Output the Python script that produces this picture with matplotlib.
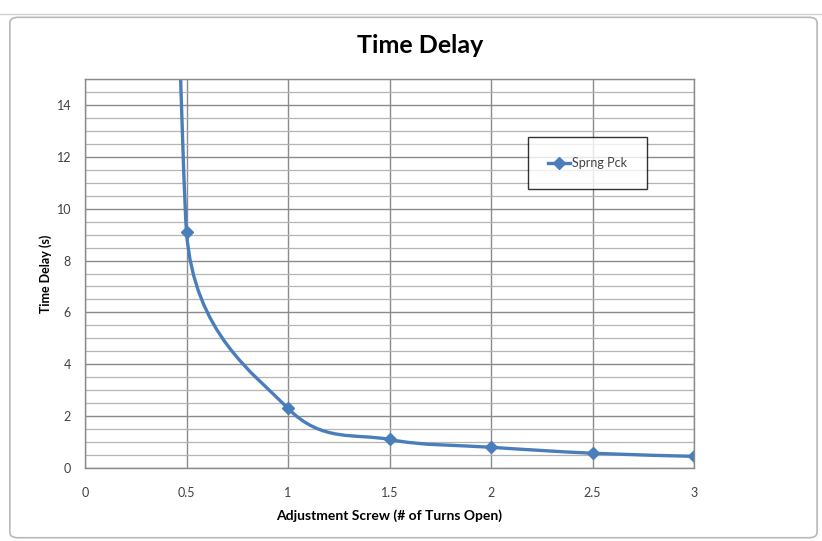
import matplotlib.pyplot as plt
import numpy as np
from matplotlib.path import Path
from matplotlib.patches import PathPatch, FancyBboxPatch
from matplotlib.lines import Line2D

turns = [0.25, 0.5, 1.0, 1.5, 2.0, 2.5, 3.0]
delay = [80.0, 9.1, 2.3, 1.1, 0.8, 0.57, 0.45]
series_name = 'Sprng Pck'

line_color = '#4a7ebb'
plt.rcParams['font.family'] = ['Lato', 'DejaVu Sans']

fig = plt.figure(figsize=(8.22, 5.41), dpi=100)
fig.patch.set_facecolor('white')

# chart area frame (Excel-like)
frame = FancyBboxPatch((0.012, 0.006), 0.982, 0.962, boxstyle='round,pad=0,rounding_size=0.01',
                       transform=fig.transFigure, facecolor='white', edgecolor='#b8b8b8',
                       lw=1.2, zorder=-10)
fig.add_artist(frame)
fig.add_artist(Line2D([0, 1], [0.975, 0.975], color='#d0d0d0', lw=1,
                      transform=fig.transFigure, zorder=-10))

ax = fig.add_axes([0.1034, 0.1349, 0.741, 0.719])
ax.set_zorder(5)
ax.set_xlim(0, 3)
ax.set_ylim(0, 15)
ax.set_xticks(np.arange(0, 3.01, 0.5))
ax.set_xticklabels(['0', '0.5', '1', '1.5', '2', '2.5', '3'])
ax.set_yticks(np.arange(0, 15, 2))
ax.set_yticks(np.arange(0, 15.01, 0.5), minor=True)
ax.grid(which='minor', axis='y', color='#b4b4b4', lw=0.9)
ax.grid(which='major', axis='y', color='#8a8a8a', lw=1.0)
ax.grid(which='major', axis='x', color='#8a8a8a', lw=1.0)
ax.set_axisbelow(True)
for s in ax.spines.values():
    s.set_color('#8a8a8a')
    s.set_linewidth(1.0)
ax.tick_params(which='both', length=0, labelsize=9, labelcolor='#404040')
ax.tick_params(axis='x', pad=14)
ax.tick_params(axis='y', pad=10)

# Excel-style smoothed line: Bezier with arms clamped to half the shorter segment,
# worked out in screen space, then mapped back to data space
pts = ax.transData.transform(np.column_stack([turns, delay]))
n = len(pts)


def arm(i):
    p_prev = pts[i - 1] if i > 0 else pts[i]
    p_next = pts[i + 1] if i + 1 < n else pts[i]
    d = p_next - p_prev
    d02 = np.hypot(*d)
    if d02 == 0:
        return np.zeros(2)
    lim = [d02 / 6]
    if i > 0:
        lim.append(np.hypot(*(pts[i] - p_prev)) / 2)
    if i + 1 < n:
        lim.append(np.hypot(*(p_next - pts[i])) / 2)
    return d / d02 * min(lim)


arms = [arm(i) for i in range(n)]
verts = [pts[0]]
codes = [Path.MOVETO]
for i in range(n - 1):
    verts += [pts[i] + arms[i], pts[i + 1] - arms[i + 1], pts[i + 1]]
    codes += [Path.CURVE4] * 3
verts = ax.transData.inverted().transform(np.array(verts))
ax.add_patch(PathPatch(Path(verts, codes), facecolor='none', edgecolor=line_color,
                       lw=2.4, capstyle='round', joinstyle='round', clip_on=True))
ax.plot(turns, delay, linestyle='none', marker='D', ms=6, color=line_color)

handle = Line2D([], [], color=line_color, lw=2.4, marker='D', ms=6)
leg = ax.legend([handle], [series_name], loc='upper left', bbox_to_anchor=(0.727, 0.851),
                frameon=True, fancybox=False, fontsize=9, borderpad=1.6, handlelength=1.8,
                handletextpad=0.1, borderaxespad=0)
leg.get_frame().set_edgecolor('black')
leg.get_frame().set_linewidth(1.0)
for t in leg.get_texts():
    t.set_color('#404040')

fig.text(0.511, 0.915, 'Time Delay', ha='center', va='center', fontsize=18, fontweight='bold')
ax.set_xlabel('Adjustment Screw (# of Turns Open)', fontsize=10, fontweight='bold', labelpad=7)
ax.set_ylabel('Time Delay (s)', fontsize=9, fontweight='bold', labelpad=3)

fig.savefig('out.png', dpi=100)
